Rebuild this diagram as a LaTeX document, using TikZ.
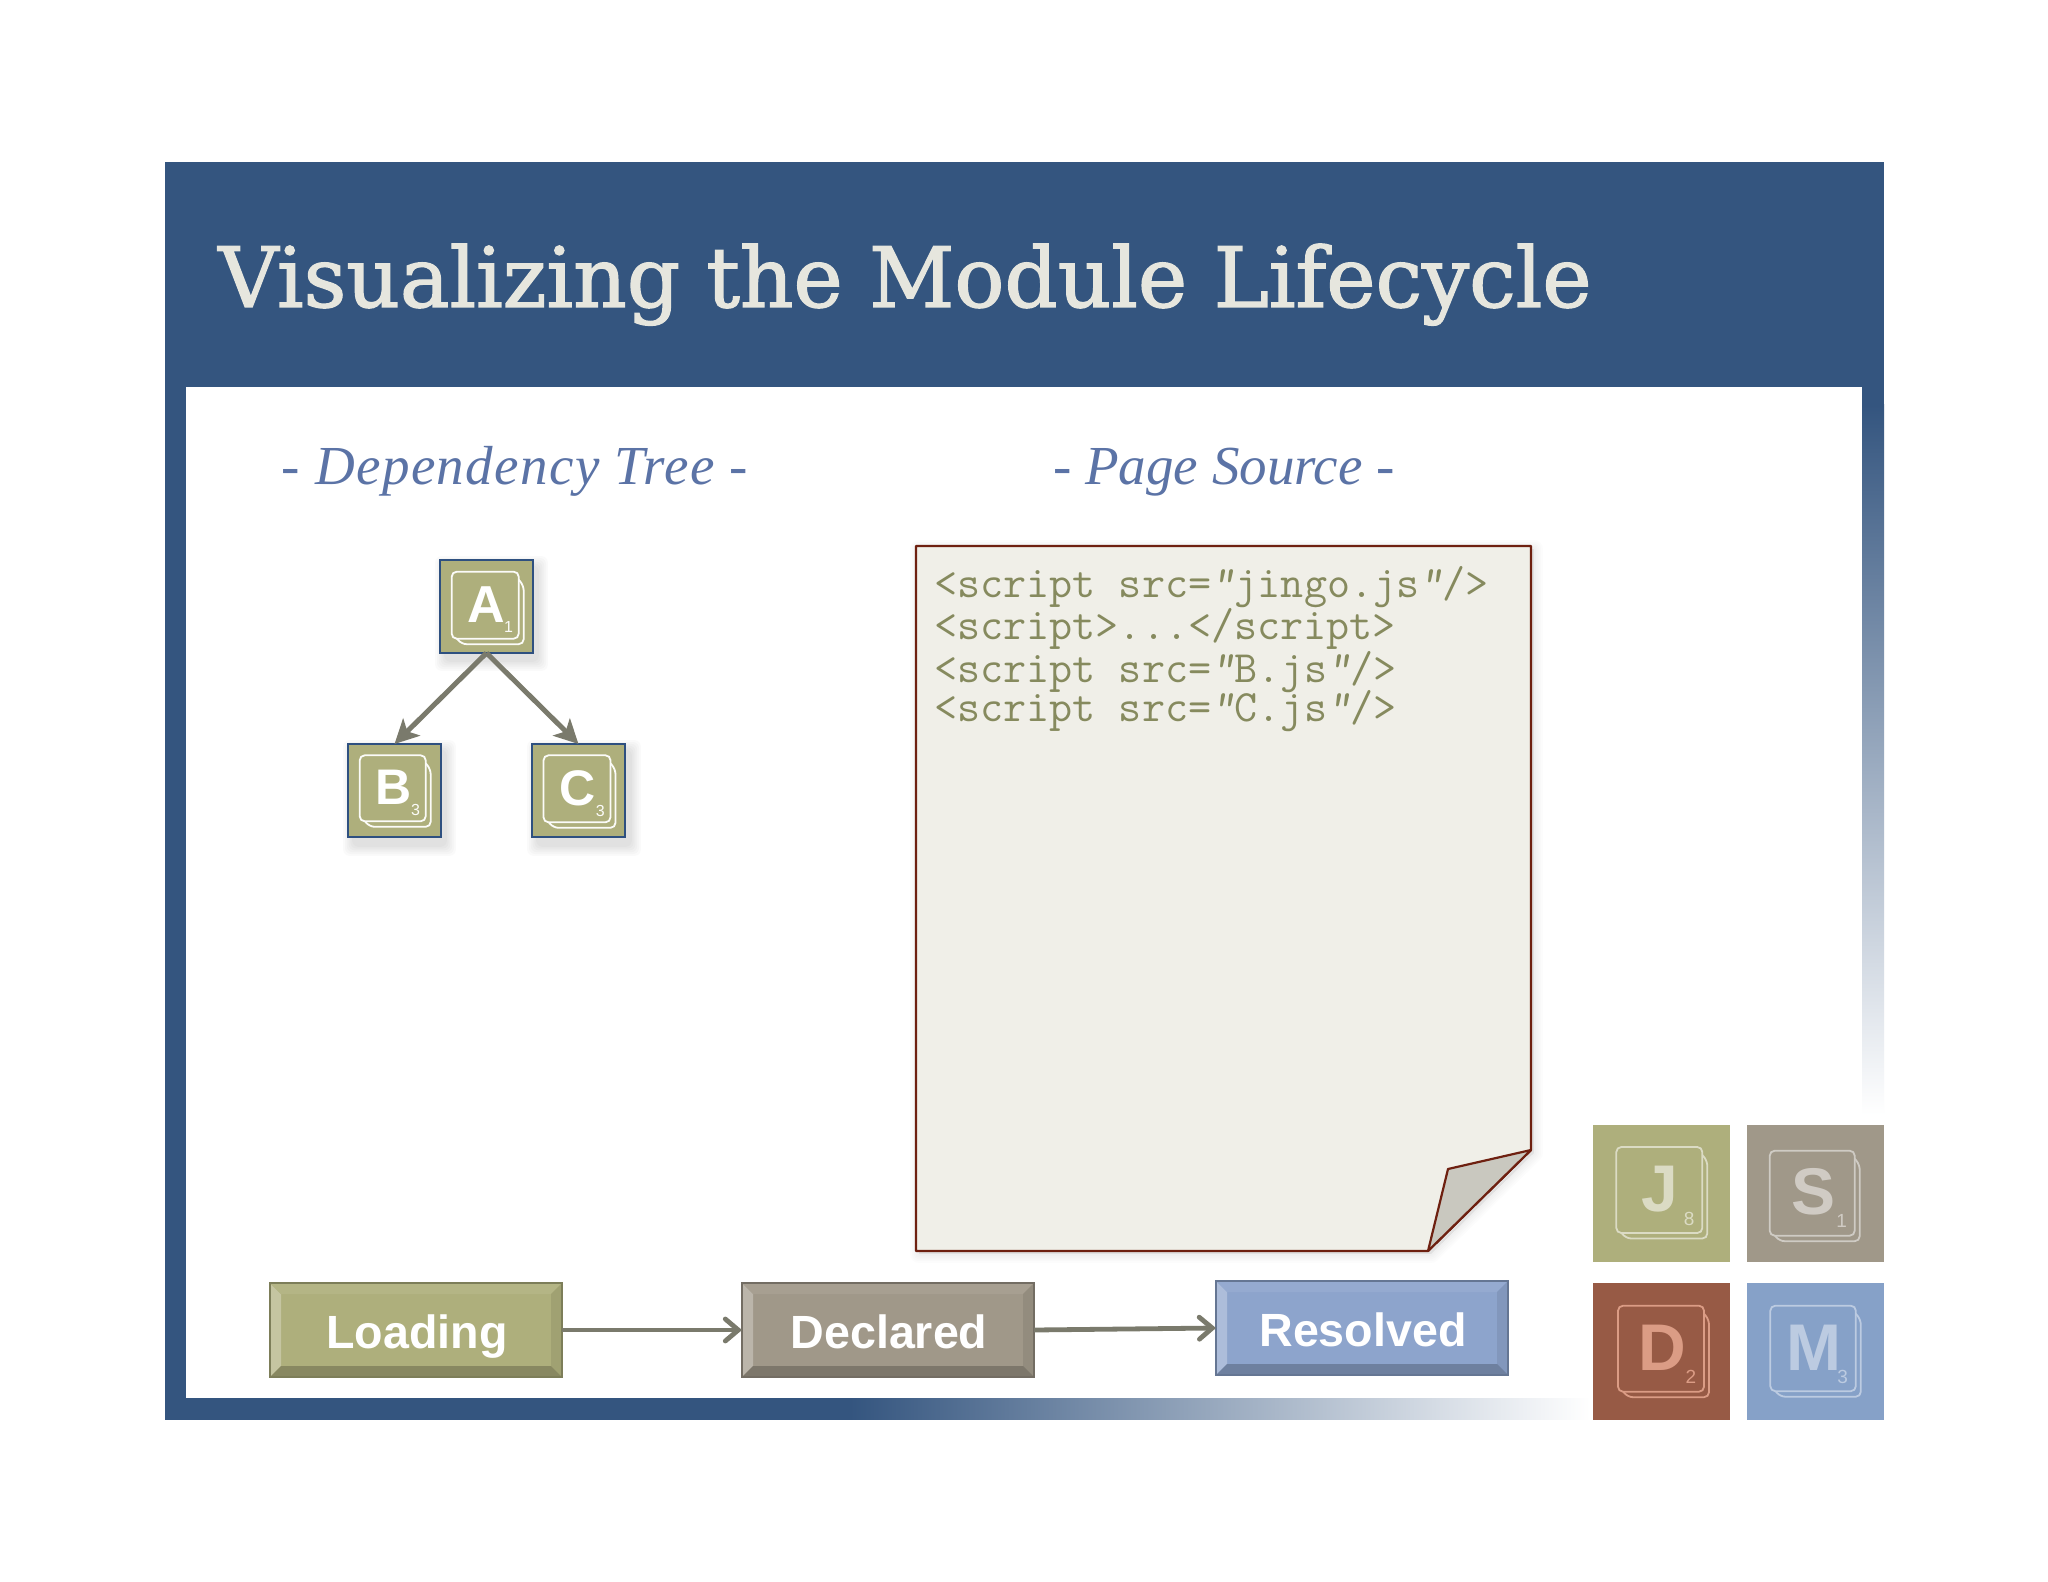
\documentclass[tikz,border=0pt]{standalone}
\usepackage{fontspec}
\setmainfont{Liberation Sans}
\newfontfamily\titlefont[FakeBold=1.6]{DejaVu Serif}
\newfontfamily\subfont{Liberation Serif}
\newfontfamily\subwide[LetterSpace=2.5]{Liberation Serif}
\usetikzlibrary{arrows.meta,calc}
\definecolor{framec}{HTML}{34557F}
\definecolor{titlec}{HTML}{E6E6DE}
\definecolor{subc}{HTML}{5B73A6}
\definecolor{olive}{HTML}{AEAF7C}
\definecolor{greyc}{HTML}{A09889}
\definecolor{redc}{HTML}{975A45}
\definecolor{bluec}{HTML}{86A1C8}
\definecolor{btnblue}{HTML}{8DA4CC}
\definecolor{paperc}{HTML}{F0EFE8}
\definecolor{paperl}{HTML}{6E2010}
\definecolor{foldc}{HTML}{C9C8BF}
\definecolor{codec}{HTML}{868A5E}
\definecolor{arrowc}{HTML}{7A7A6C}
\definecolor{tileb}{HTML}{2E5080}
\newcommand{\openq}{{\slshape “}}
\newcommand{\closeq}{{\slshape ”}}
\tikzset{
  tilebox/.style={rectangle,inner sep=0pt,outer sep=0pt,anchor=north west},
  keyline/.style={line width=0.9pt,rounded corners=2.5pt},
  treearrow/.style={draw=arrowc,line width=2.5pt,-{Stealth[length=12pt,width=12pt,inset=3pt]}},
  flowarrow/.style={draw=arrowc,line width=2.4pt,-{Straight Barb[length=6.5pt,width=11pt,line cap=round]}},
  codeline/.style={anchor=base west,inner sep=0pt,text=codec,font=\ttfamily\fontsize{22.4}{24}\selectfont},
  subtitle/.style={anchor=base,inner sep=0pt,text=subc,font=\subfont\itshape\fontsize{27.5}{30}\selectfont},
  btntext/.style={text=white,inner sep=0pt,anchor=base,font=\bfseries\fontsize{23.3}{25}\selectfont},
  btnbox/.style={rectangle,inner sep=0pt,outer sep=0pt,anchor=north west}
}
\pgfkeys{/tile/.cd,
  x/.store in=\tx, y/.store in=\ty, s/.store in=\ts,
  l/.store in=\il, t/.store in=\it, w/.store in=\iw,
  fill/.store in=\tfillc, border/.store in=\tbord, line/.store in=\tlinec, letter/.store in=\tletc,
  fs/.store in=\tfs, ns/.store in=\tns}
\newcommand{\softshadow}[4]{% x0 y0 x1 y1
  \foreach \k in {1,...,6}{
    \fill[black,opacity=0.018,rounded corners=3pt] (#1-\k*1.8,#2-\k*1.8) rectangle (#3+\k*1.8,#4+\k*1.8);
  }}
\newcommand{\tile}[4]{% name, keys, letter, number
  \pgfkeys{/tile/.cd,#2}
  \node[tilebox,fill=\tfillc,draw=\tbord,minimum size={\ts*0.5pt},line width=\tbw] (#1) at (\tx,\ty) {};
  \begin{scope}[shift={(\tx,\ty)}]
    \pgfmathsetmacro{\ir}{\il+\iw}\pgfmathsetmacro{\ib}{\it+\iw}
    \draw[keyline,draw=\tlinec] (\ir,\it+8) -- (\ir+5,\it+14) -- (\ir+5,\ib+5.5) -- (\il+10,\ib+5.5) -- (\il+1,\ib-5);
    \draw[keyline,draw=\tlinec,fill=\tfillc] (\il,\it) rectangle (\ir,\ib);
    \node[inner sep=0pt,text=\tletc,font=\bfseries\fontsize{\tfs}{\tfs}\selectfont] (#1-letter) at ({\il+\iw/2+1},{\it+\iw/2-1}) {#3};
    \node[inner sep=0pt,text=\tlinec,font=\fontsize{\tns}{\tns}\selectfont] (#1-num) at ({\ir-0.153*\iw},{\ib-0.168*\iw}) {#4};
  \end{scope}}
\newcommand{\button}[7]{% name x y w h colour text
  \node[btnbox,fill=#6,minimum width={#4*0.5pt},minimum height={#5*0.5pt}] (#1) at (#2,#3) {};
  \begin{scope}[shift={(#2,#3)}]
    \fill[#6!72!white] (0,0) -- (11,11) -- (11,#5-11) -- (0,#5) -- cycle;
    \fill[#6!93!white] (0,0) -- (#4,0) -- (#4-11,11) -- (11,11) -- cycle;
    \fill[#6!92!black] (#4,0) -- (#4-11,11) -- (#4-11,#5-11) -- (#4,#5) -- cycle;
    \fill[#6!78!black] (0,#5) -- (11,#5-11) -- (#4-11,#5-11) -- (#4,#5) -- cycle;
    \draw[#6!72!black,line width=0.7pt] (0,0) rectangle (#4,#5);
    \node[btntext] (#1-text) at ({#4/2+1},65) {#7};
  \end{scope}}
\begin{document}
\begin{tikzpicture}[x=0.5pt,y=-0.5pt]
\useasboundingbox (0,0) rectangle (2048,1582);
\fill[white] (0,0) rectangle (2048,1582);
% frame
\shade[left color=framec,right color=white] (850,1398) rectangle (1590,1419.2);
\fill[framec] (165,162) rectangle (1884,387);
\fill[framec] (165,387) rectangle (186,1420);
\fill[framec] (186,1398) rectangle (850.5,1420);
\fill[framec] (1862,387) rectangle (1884,405);
\shade[top color=framec,bottom color=white] (1862,405) rectangle (1884,1115);
% title
\node[anchor=base west,inner sep=0pt,text=titlec,font=\titlefont\fontsize{41.6}{48}\selectfont] (title) at (218,307) {Visualizing the Module Lifecycle};
% subtitles
\node[subtitle,font=\subwide\itshape\fontsize{27.5}{30}\selectfont] (depTree) at (515,485) {- Dependency Tree -};
\node[subtitle] (pageSrc) at (1224,485) {- Page Source -};
% page
\coordinate (pNW) at (916,546);
\coordinate (pNE) at (1531,546);
\coordinate (pSW) at (916,1251);
\coordinate (foldR) at (1531,1150);
\coordinate (foldM) at (1448,1169);
\coordinate (foldB) at (1428,1251);
\foreach \k in {1,...,5}{
  \draw[black,opacity=0.012,line width={\k*1.8pt},line join=round,fill=black] ($(pNW)+(3,3)$) -- ($(pNE)+(3,3)$) -- ($(foldR)+(3,3)$) -- ($(foldB)+(3,3)$) -- ($(pSW)+(3,3)$) -- cycle;
}
\draw[paperl,line width=1.1pt,fill=paperc,line join=round] (pNW) -- (pNE) -- (foldR) -- (foldB) -- (pSW) -- cycle;
\draw[paperl,line width=1.1pt,fill=foldc,line join=round] (foldR) -- (foldM) -- (foldB) -- cycle;
\node[codeline] (code1) at (934,597) {<script src=\openq jingo.js\closeq/>};
\node[codeline] (code2) at (934,639) {<script>...</script>};
\node[codeline] (code3) at (934,682) {<script src=\openq B.js\closeq/>};
\node[codeline] (code4) at (934,721) {<script src=\openq C.js\closeq/>};
% tree tiles
\def\tbw{1.1pt}
\softshadow{446}{567}{537}{660}
\softshadow{354}{751}{445}{845}
\softshadow{538}{751}{630}{845}
\tile{A}{x=440,y=560,s=93,l=11.7,t=11.7,w=67,fill=olive,border=tileb,line=white!95!olive,letter=white,fs=26,ns=8}{A}{1}
\tile{B}{x=348,y=744,s=93,l=11.7,t=11.3,w=66,fill=olive,border=tileb,line=white!95!olive,letter=white,fs=25,ns=8}{B}{3}
\tile{C}{x=532,y=744,s=93,l=11.5,t=11.3,w=67,fill=olive,border=tileb,line=white!95!olive,letter=white,fs=25,ns=8}{C}{3}
\draw[treearrow] (A.south) -- (B.north);
\draw[treearrow] (A.south) -- (C.north);
% buttons
\button{loading}{270}{1283}{292}{94}{olive}{Loading}
\button{declared}{742}{1283}{292}{94}{greyc}{Declared}
\button{resolved}{1216}{1281}{292}{94}{btnblue}{Resolved}
\draw[flowarrow] (loading.east) -- (declared.west);
\draw[flowarrow] (declared.east) -- (resolved.west);
% logo tiles
\def\tbw{0pt}
\tile{J}{x=1593,y=1125,s=136,l=23.3,t=22,w=86,fill=olive,border=olive,line=olive!45!white,letter=olive!45!white,fs=33,ns=9.5}{J}{8}
\tile{S}{x=1747,y=1125,s=136,l=22.7,t=25.7,w=85,fill=greyc,border=greyc,line=greyc!50!white,letter=greyc!50!white,fs=33,ns=9.5}{S}{1}
\definecolor{redl}{HTML}{DB9C85}
\tile{D}{x=1593,y=1283,s=136,l=25,t=22.7,w=86,fill=redc,border=redc,line=redl,letter=redl,fs=33,ns=9.5}{D}{2}
\tile{M}{x=1747,y=1283,s=136,l=23.3,t=22.7,w=85.5,fill=bluec,border=bluec,line=bluec!55!white,letter=bluec!55!white,fs=33,ns=9.5}{M}{3}
\end{tikzpicture}
\end{document}
